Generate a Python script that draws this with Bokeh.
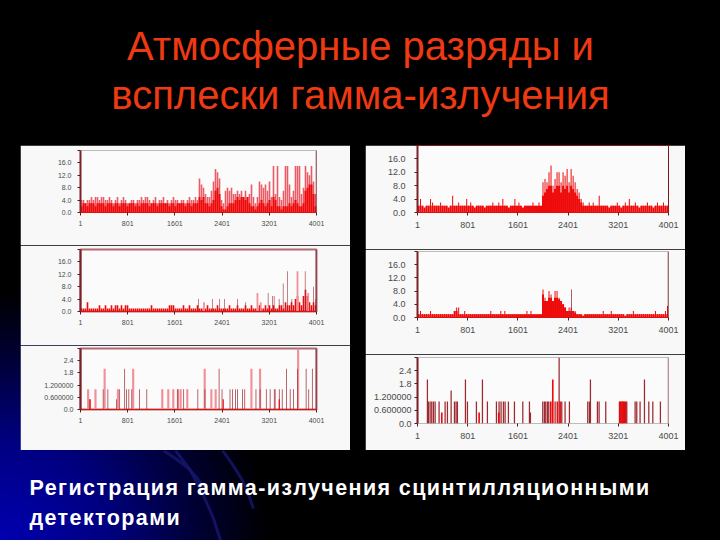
from bokeh.plotting import figure
from bokeh.layouts import column, row
from bokeh.models import Range1d, FixedTicker, BoxAnnotation, Span
from bokeh.embed import file_html
from bokeh.resources import INLINE

title_lines = ["Атмосферные разряды и", "всплески гамма-излучения"]
caption_lines = ["Регистрация гамма-излучения сцинтилляционными", "детекторами"]

count_ticks = [0, 4, 8, 12, 16, 20]
count_labels = ["0.0", "4.0", "8.0", "12.0", "16.0", ""]
rare_ticks = [0, 0.6, 1.2, 1.8, 2.4, 3.0]
rare_labels = ["0.0", "0.600000", "1.200000", "1.8", "2.4", ""]
time_ticks = [1, 801, 1601, 2401, 3201, 4001]
time_labels = ["1", "801", "1601", "2401", "3201", "4001"]

l1_pale = [4,4,3,4,4,5,4,5,5,4,5,5,4,4,5,4,3,4,5,3,4,5,4,3,3,4,4,3,4,4,5,4,5,5,4,3,4,5,3,4,
           4,5,3,4,3,4,5,4,4,3,4,4,3,4,5,4,4,5,4,
           11,9,8,6,5,5,7,10,14,13,11,4,3,7,8,7,8,6,6,7,6,7,5,7,5,6,9,5,3,5,10,9,8,9,7,10,5,
           15,6,15,5,4,7,15,15,9,5,7,15,15,15,6,8,15,13,12,15,10,6]
l1_solid = [2,3,3,2,3,3,3,2,3,3,3,3,2,3,3,3,2,3,3,2,3,3,3,2,3,3,3,2,3,2,3,3,3,3,2,3,3,3,2,3,
            3,3,3,3,2,3,3,2,3,3,3,3,2,3,3,2,3,3,3,
            5,4,5,3,3,2,3,4,7,8,6,2,1,1,2,3,3,3,4,5,4,5,5,4,5,3,2,2,1,2,3,4,3,2,3,4,2,
            5,4,2,2,1,2,2,2,3,2,3,4,3,2,2,3,7,8,9,9,6,2]

l2_solid = [1,1,1,3,1,1,1,1,1,2,1,1,2,1,1,2,1,2,2,1,2,1,2,2,1,1,1,1,1,1,1,1,1,1,1,2,1,1,1,1,
            1,1,1,1,2,2,2,1,1,1,1,2,1,1,2,1,1,1,2,1,1,1,1,2,1,1,1,1,2,1,1,1,1,1,2,1,1,1,2,1,
            1,1,2,1,1,2,1,1,1,2,1,1,2,1,2,1,2,1,1,2,2,1,3,2,2,3,2,4,5,3,2,5,7,5,3,2,3,2]
l2_dark_t = [1998,2236,2360,2445,2660,2802,3181,3254,3283,3368,3436,3509,3583,3809,3951,3990]
l2_dark_h = [4,4,4,4,4,3,6,5,5,4,9,13,4,13,8,4]
l2_pale_t = [2094,3000,3056,3679,3860]
l2_pale_h = [3,6,3,13,6]

l3_pale_t = [130,255,410,635,894,1387,1489,1574,1653,1698,1811,2106,2219,2292,2898,3045,3690]
l3_pale_h = [1,1,2,1,2,1,1,1,1,1,1,2,1,1,2,2,3]
l3_dark_t = [150,385,465,610,665,750,780,820,870,1000,1125,1650,1750,1990,2110,2350,2400,2535,
             2575,2630,2660,2745,2785,2975,3045,3150,3215,3285,3300,3370,3420,3495,3555,3610,
             3680,3825,3870,3930]
l3_dark_h = [0.5,1,1,0.5,1,2,1,1,1,1,1,1,1,1,1,2,1,1,1,1,1,1,1,1,1,1,1,1,1,1,1,2,1,1,2,2,1,2]
l3_red_t = [3370,2420,165]
l3_red_h = [0.5,0.5,0.5]

r1_spikes = [2,4,2,1,2,2,4,3,2,2,2,3,2,2,2,1,2,5,2,2,3,2,2,2,4,2,3,2,1,2,2,2,2,1,2,2,2,3,2,2,
             3,2,4,2,2,1,2,2,4,2,3,2,1,2,2,2,2,3,2,2,3,2,
             9,10,9,12,14,8,10,12,12,9,12,11,13,9,13,11,9,7,6,4,
             3,2,2,3,2,3,2,2,5,2,2,2,2,1,2,2,2,3,2,1,2,3,2,4,2,2,3,2,1,2,2,2,3,2,2,1,2,3,2,2,3,2,2]
r1_body = [2,2,2,1.5,2,2,2,2,2,2,2,2,2,2,2,1.5,2,2,2,2,2,2,2,2,2,2,2,2,1.5,2,2,2,2,1.5,2,2,2,2,2,2,
           2,2,2,2,2,1.5,2,2,2,2,2,2,1.5,2,2,2,2,2,2,2,2,2,
           5,6,7,8,8,6,7,8,8,6,8,7,8,6,8,7,6,5,4,3,
           2,2,2,2,2,2,2,2,2,2,2,2,2,1.5,2,2,2,2,2,1.5,2,2,2,2,2,2,2,2,1.5,2,2,2,2,2,2,1.5,2,2,2,2,2,2,2]
r2_spikes = [1,2,1,1,1,1,2,1,1,1,1,1,1,1,1,1,1,1,2,3,3,1,1,2,1,1,1,1,1,1,1,1,1,1,1,1,2,1,1,1,
             1,2,1,2,1,1,1,1,1,1,1,1,1,1,2,1,2,1,1,1,1,1,
             8.5,6,5,8,7,5,8,8,6,5,4,3,2,3,3,2,2,1,
             1,1,0.5,1,1,1,1,1,1,1,1,1,2,1,1,1,2,1,1,1,1,1,1,0.5,1,1,1,2,1,1,1,1,1,1,1,1,1,1,2,1,
             1,1,1,2,3.5]
r2_body = [1,1,1,1,1,1,1,1,1,1,1,1,1,1,1,1,1,1,2,2,1,1,1,1,1,1,1,1,1,1,1,1,1,1,1,1,1,1,1,1,
           1,1,1,1,1,1,1,1,1,1,1,1,1,1,1,1,1,1,1,1,1,1,
           7,5,5,6,6,5,6,6,5.5,5,4,3,2,2,2,2,1.5,1,
           1,1,0.5,1,1,1,1,1,1,1,1,1,1,1,1,1,1,1,1,1,1,1,1,0.5,1,1,1,1,1,1,1,1,1,1,1,1,1,1,1,1,
           1,1,1,1,1]
r2_dark_t = [2454]
r2_dark_h = [8.5]
r3_dark_t = [1,159,175,202,228,255,282,345,441,478,537,590,616,637,765,797,940,1036,1115,1259,
             1301,1333,1370,1397,1450,1546,1679,1785,1801,1997,2024,2045,2072,2093,2194,2258,
             2300,2353,2422,2714,2741,2757,2868,2895,3001,3219,3246,3272,3299,3336,3469,3495,
             3548,3618,3687,3751,3872,4000]
r3_dark_h = [3,2,1,1,1,1,1,1,1,1,1.5,1,1,1,2,1,1,2,1,1,
             1,1,1,1,1,1,1,1,0.5,1,1,1,1,1,1,3,
             1,1,1,1,1,2,1,1,1,1,1,1,1,1,1,1,
             1,2,1,1,1,3]
r3_red_t = [388,983,1296,2125,2157,2231,2274,3232,3260,3285,3320]
r3_red_h = [0.5,0.5,0.5,1,2,1,1,1,1,1,1]


def panel(w, h, left, right, top, bottom, ticks, labels, ymax, font, ystand, xstand, edge, edge_w=1):
    p = figure(width=w, height=h, output_backend="svg", toolbar_location=None,
               x_range=Range1d(1, 4001), y_range=Range1d(0, ymax),
               min_border_left=left, min_border_right=right, min_border_top=top,
               min_border_bottom=bottom, border_fill_color="#f8f8f8",
               background_fill_color="#fbfbfb", outline_line_color=edge, outline_line_width=edge_w)
    p.grid.visible = False
    p.yaxis.ticker = FixedTicker(ticks=ticks)
    p.yaxis.major_label_overrides = dict(zip(ticks, labels))
    p.xaxis.ticker = FixedTicker(ticks=time_ticks)
    p.xaxis.major_label_overrides = dict(zip(time_ticks, time_labels))
    for ax, st in ((p.xaxis, xstand), (p.yaxis, ystand)):
        ax.major_label_text_font = "Liberation Sans"
        ax.major_label_text_font_size = font
        ax.major_label_text_color = "#4a4a4a"
        ax.major_label_standoff = st
        ax.major_tick_in = 0
        ax.major_tick_out = 3
        ax.minor_tick_line_color = None
        ax.major_tick_line_color = "#5a1a20"
    p.yaxis.axis_line_color = "#7a2228"
    p.yaxis.axis_line_width = 2
    p.xaxis.axis_line_color = "#e01010"
    return p


def bars(p, values, color, frac=1.0):
    step = 4000 / len(values)
    xs = [1 + (i + 0.5) * step for i in range(len(values))]
    p.vbar(x=xs, top=values, width=step * frac, color=color, line_color=None)


def events(p, times, heights, color, width):
    p.vbar(x=times, top=heights, width=width, color=color, line_color=None)


def right_edge(p, color="#7a2228"):
    p.add_layout(Span(location=4001, dimension="height", line_color=color, line_width=1.5))


def frame_box(p, x0, y0, x1, y1, color, width=1):
    p.add_layout(BoxAnnotation(left=x0, right=x1, top=y0, bottom=y1, left_units="canvas",
                               right_units="canvas", top_units="canvas", bottom_units="canvas",
                               fill_alpha=0, line_color=color, line_width=width))


PALE = "#f09098"
STRONG_PALE = "#ec5a64"
DARK = "#9c2a30"
RED = "#ee0a0a"
EDGE_L = "#b06a72"
EDGE_R = "#7a1a20"

l1 = panel(330, 100, 60, 34, 5, 33, count_ticks, count_labels, 20, "7px", 6, 5, None)
bars(l1, l1_pale, STRONG_PALE, 0.8)
bars(l1, l1_solid, RED)
right_edge(l1)
frame_box(l1, 10, 3, 322, 97, "#a89a9a")

l2 = panel(330, 100, 60, 34, 4, 34, count_ticks, count_labels, 20, "7px", 6, 5, EDGE_L, 2)
bars(l2, l2_solid, RED, 0.8)
events(l2, l2_pale_t, l2_pale_h, PALE, 30)
events(l2, l2_dark_t, l2_dark_h, DARK, 10)
right_edge(l2)
frame_box(l2, 10, 3, 322, 96, "#a89a9a")
frame_box(l2, 0, 0, 330, 1, "#222222")

l3 = panel(330, 105, 60, 34, 3, 41, rare_ticks, rare_labels, 3, "7px", 4, 5, EDGE_L, 2)
events(l3, l3_pale_t, l3_pale_h, PALE, 36)
events(l3, l3_dark_t, l3_dark_h, DARK, 12)
events(l3, l3_red_t, l3_red_h, RED, 20)
right_edge(l3)
frame_box(l3, 10, 1, 322, 98, "#a89a9a")
frame_box(l3, 0, 0, 330, 0, "#222222")

r1 = panel(320, 104, 52, 17, 0, 37, count_ticks, count_labels, 20, "9px", 9, 6, EDGE_R)
bars(r1, r1_spikes, RED, 0.5)
bars(r1, r1_body, RED)

r2 = panel(320, 105, 52, 17, 2, 37, count_ticks, count_labels, 20, "9px", 9, 6, None)
bars(r2, r2_spikes, RED, 0.5)
bars(r2, r2_body, RED)
events(r2, r2_dark_t, r2_dark_h, DARK, 12)
right_edge(r2)
frame_box(r2, 0, 0, 320, 0, "#6a5a5a", 2)

r3 = panel(320, 96, 52, 17, 3, 27, rare_ticks, rare_labels, 3, "9px", 3, 6, None)
r3.xaxis.axis_line_color = None
events(r3, r3_dark_t, r3_dark_h, DARK, 20)
events(r3, r3_red_t, r3_red_h, RED, 26)
frame_box(r3, 0, 0, 320, 0, "#6a5a5a", 2)


def text_strip(height, **kw):
    p = figure(width=720, height=height, output_backend="svg", toolbar_location=None,
               x_range=Range1d(0, 720), y_range=Range1d(height, 0), min_border=0,
               border_fill_alpha=0, background_fill_alpha=0, outline_line_color=None, **kw)
    p.axis.visible = False
    p.grid.visible = False
    return p


head = text_strip(145)
head.text(x=[360, 360], y=[45, 94], text=title_lines, text_color="#ee3a12",
          text_font={"value": "Liberation Sans"}, text_font_size="40px",
          text_align="center", text_baseline="middle")

foot = text_strip(90, styles={"letter-spacing": "1.4px"})
foot.multi_line(xs=[[163, 175, 188, 197, 205], [175, 190, 203, 213, 220], [222, 232, 242, 248, 253]],
                ys=[[0, 8, 18, 28, 40], [0, 20, 45, 68, 90], [0, 14, 30, 44, 58]],
                line_color="#161670", line_width=3, line_alpha=0.8)
foot.text(x=[29, 29], y=[37, 67], text=caption_lines, text_color="#ffffff",
          text_font={"value": "Liberation Sans"}, text_font_size="21.5px", text_font_style="bold",
          text_align="left", text_baseline="middle")

left = column(l1, l2, l3, margin=(0, 0, 0, 20))
right = column(r1, r2, r3, margin=(0, 0, 0, 15))
root = column(head, row(left, right), foot, width=720, height=540, styles={
    "position": "fixed", "left": "0", "top": "0",
    "background": "radial-gradient(ellipse 270px 250px at 0% 100%, #0000b0 0%, #000080 40%, #000030 75%, #000000 100%), #000000",
})

open("out.html", "w").write(file_html(root, INLINE))
